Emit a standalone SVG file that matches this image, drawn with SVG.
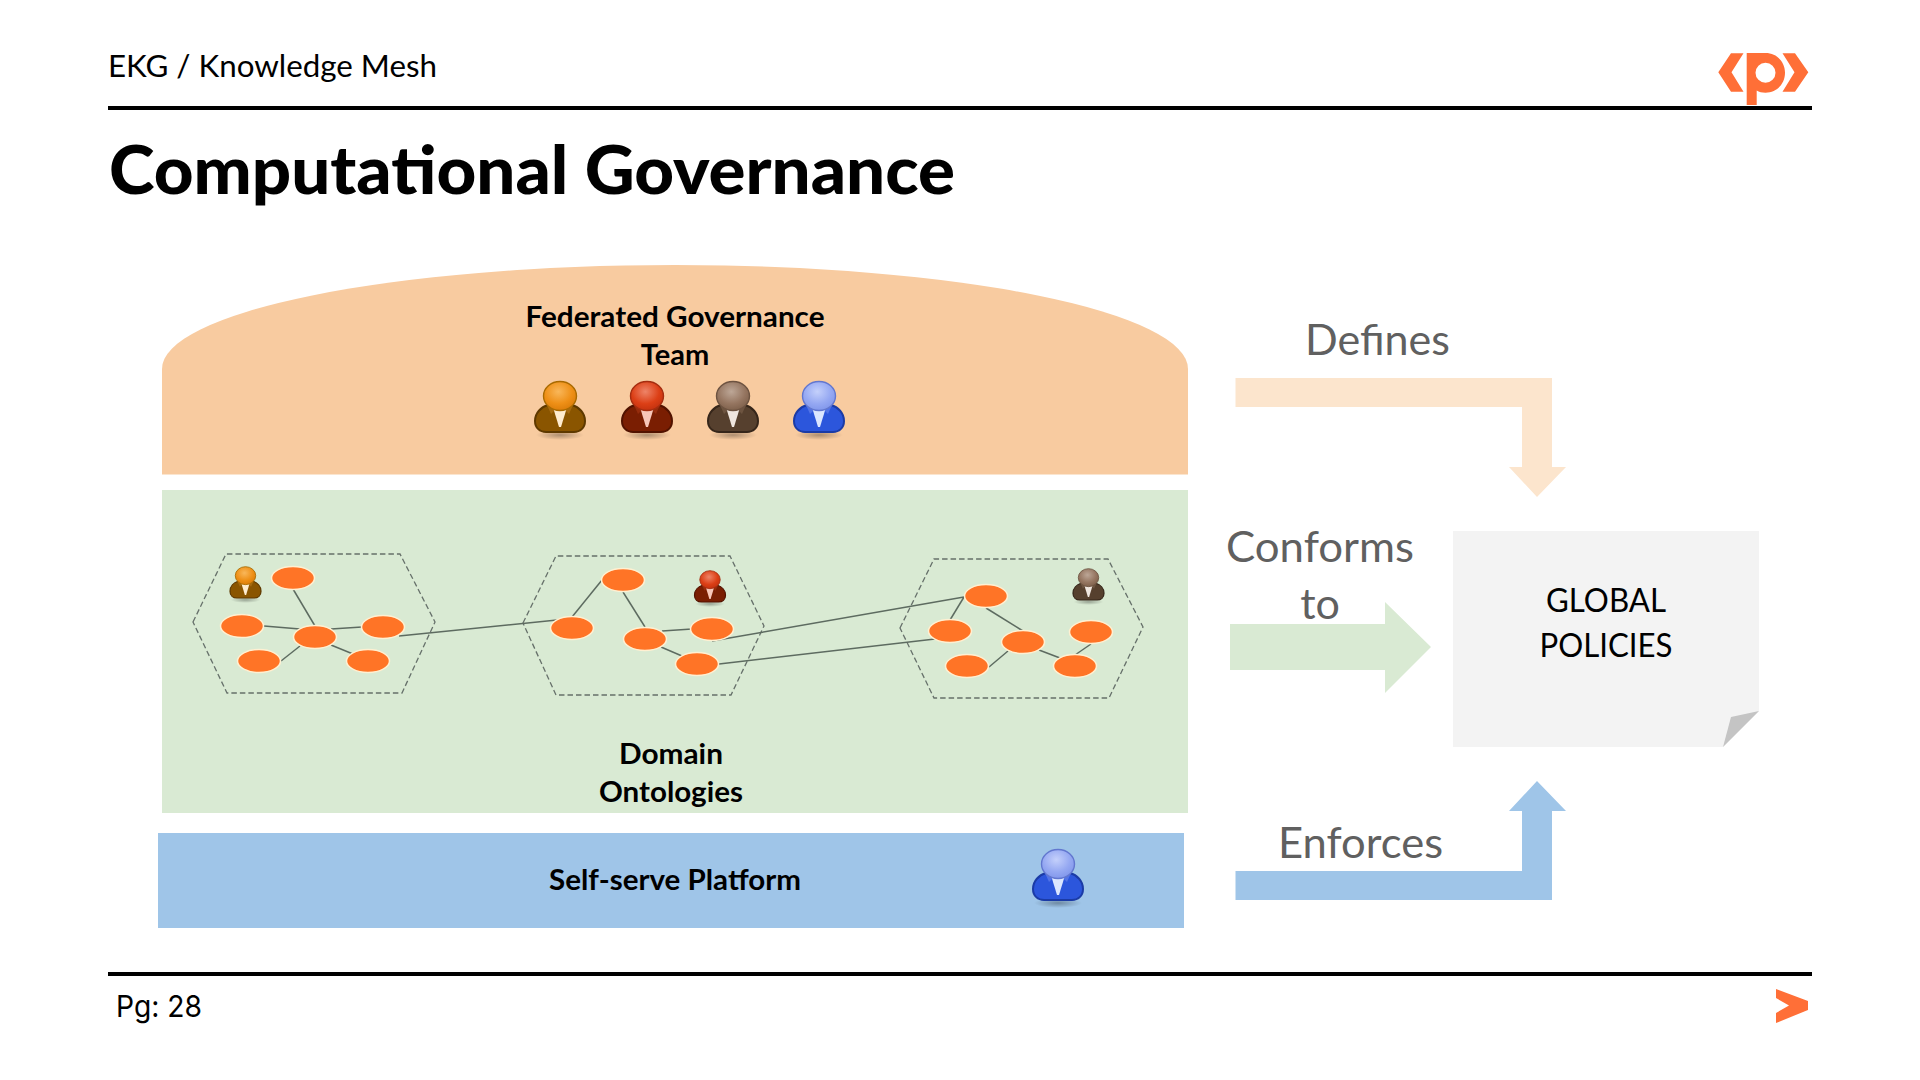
<svg xmlns="http://www.w3.org/2000/svg" width="1920" height="1080" viewBox="0 0 1920 1080">
<style>
text{font-family:"Lato","Noto Sans",sans-serif}
.lbl{font-weight:700;font-size:29px;fill:#000;text-anchor:middle}
.rel{font-size:43px;fill:#606060}
.doc{font-size:33px;fill:#000;text-anchor:middle}
.head{font-size:30px;fill:#000}
.n{fill:#FF7426;stroke:#FFF0D2;stroke-width:1.5}
.hex{fill:none;stroke:#66706a;stroke-width:1.3;stroke-dasharray:5.5 3}
.c{stroke:#5d6b60;stroke-width:1.5;fill:none}
.rule{fill:#000}
.logo{fill:#FF6F37}
</style>
<defs>
<radialGradient id="gO" cx=".45" cy=".35" r=".7"><stop offset="0" stop-color="#f9b75a"/><stop offset=".6" stop-color="#ee8f16"/><stop offset="1" stop-color="#d87a08"/></radialGradient>
<radialGradient id="gR" cx=".45" cy=".35" r=".7"><stop offset="0" stop-color="#ee8468"/><stop offset=".6" stop-color="#dc3f16"/><stop offset="1" stop-color="#c0300e"/></radialGradient>
<radialGradient id="gB" cx=".45" cy=".35" r=".7"><stop offset="0" stop-color="#bda797"/><stop offset=".6" stop-color="#957560"/><stop offset="1" stop-color="#7a5d48"/></radialGradient>
<radialGradient id="gU" cx=".45" cy=".35" r=".7"><stop offset="0" stop-color="#c4d0fb"/><stop offset=".6" stop-color="#95a8f2"/><stop offset="1" stop-color="#7e94ea"/></radialGradient>
<radialGradient id="sh"><stop offset="0" stop-color="#000" stop-opacity=".3"/><stop offset="1" stop-color="#000" stop-opacity="0"/></radialGradient>
<path id="bd" d="M-12,-27 C-19,-25 -25,-19 -25,-11 C-25,-4 -20,0 -14,0 L14,0 C20,0 25,-4 25,-11 C25,-19 19,-25 12,-27 Z"/>
<path id="tie" d="M-6.500,-23 L6.500,-23 L1,-5 L-1,-5 Z"/>
<path id="col" d="M-13,-27 L-5,-22 L-9,-18 Z M13,-27 L5,-22 L9,-18 Z"/>
<ellipse id="hd" cx="0" cy="-36" rx="16.500" ry="14.500"/>
<ellipse id="shd" cx="0" cy="3" rx="24" ry="5" fill="url(#sh)"/>
<g id="pO"><use href="#shd"/><use href="#bd" fill="#8a5500" stroke="#5e3900" stroke-width="2"/><use href="#col" fill="#a56a10"/><use href="#tie" fill="#ffeccf"/><use href="#hd" fill="url(#gO)" stroke="#a96a00" stroke-width="1.400"/></g>
<g id="pR"><use href="#shd"/><use href="#bd" fill="#7a1e02" stroke="#521300" stroke-width="2"/><use href="#col" fill="#952c0c"/><use href="#tie" fill="#f8c6b8"/><use href="#hd" fill="url(#gR)" stroke="#a52d10" stroke-width="1.400"/></g>
<g id="pB"><use href="#shd"/><use href="#bd" fill="#56402e" stroke="#36261a" stroke-width="2"/><use href="#col" fill="#6d5440"/><use href="#tie" fill="#efe6df"/><use href="#hd" fill="url(#gB)" stroke="#6d5341" stroke-width="1.400"/></g>
<g id="pU"><use href="#shd"/><use href="#bd" fill="#2c56dc" stroke="#1b3ba6" stroke-width="2"/><use href="#col" fill="#5273e6"/><use href="#tie" fill="#dbe6ff"/><use href="#hd" fill="url(#gU)" stroke="#6277cf" stroke-width="1.400"/></g>
</defs>
<rect width="1920" height="1080" fill="#fff"/>

<g id="header">
<text class="head" x="108" y="77" textLength="329" lengthAdjust="spacingAndGlyphs">EKG / Knowledge Mesh</text>
<rect class="rule" x="108" y="106" width="1704" height="4"/>
<text x="109" y="194" font-size="67" font-weight="900" fill="#000" textLength="846" lengthAdjust="spacingAndGlyphs">Computational Governance</text>
</g>
<g id="logo" class="logo">
<path d="M1718.300,72.300 L1731,53.300 H1743.500 L1731.500,72.300 L1743.500,91.700 H1731 Z"/>
<path d="M1808.300,72.300 L1795,53.300 H1782.500 L1794.500,72.300 L1782.500,91.700 H1795 Z"/>
<path fill-rule="evenodd" d="M1746.700,53 H1765.500 C1777,53 1785,62 1785,72.700 C1785,83.500 1777,92.700 1765.500,92.700 C1762,92.700 1759,92 1756.700,90.500 V105 H1746.700 Z M1765.500,62.700 A10,10 0 1 0 1765.500,82.700 A10,10 0 1 0 1765.500,62.700 Z"/>
</g>

<g id="governance-team">
<path d="M162,474.500 V369 A513,104 0 0 1 1188,369 V474.500 Z" fill="#F8CBA0"/>
<text class="lbl" x="675" y="327" textLength="299" lengthAdjust="spacingAndGlyphs">Federated Governance</text>
<text class="lbl" x="675" y="365">Team</text>
<use href="#pO" x="560" y="432"/>
<use href="#pR" x="647" y="432"/>
<use href="#pB" x="733" y="432"/>
<use href="#pU" x="819" y="432"/>
</g>

<g id="domain-ontologies">
<rect x="162" y="490" width="1026" height="323" fill="#D9EAD3"/>
<text class="lbl" x="671" y="764" textLength="104" lengthAdjust="spacingAndGlyphs">Domain</text>
<text class="lbl" x="671" y="802" textLength="144" lengthAdjust="spacingAndGlyphs">Ontologies</text>
</g>

<g id="platform">
<rect x="158" y="833" width="1026" height="95" fill="#9FC5E8"/>
<text class="lbl" x="675" y="890" textLength="252" lengthAdjust="spacingAndGlyphs">Self-serve Platform</text>
<use href="#pU" x="1058" y="900"/>
</g>

<g id="domain-hexagons">
<polygon class="hex" points="193,622 226,554 400,554 435,622 402,693 227,693"/>
<polygon class="hex" points="523,623 556,556 730,556 764,626 731,695 556,695"/>
<polygon class="hex" points="900,628 934,559 1108,559 1143,627 1109,698 934,698"/>
</g>

<g id="connectors">
<line class="c" x1="293" y1="589" x2="315" y2="626"/>
<line class="c" x1="264" y1="626" x2="300" y2="629"/>
<line class="c" x1="331" y1="629" x2="362" y2="627"/>
<line class="c" x1="281" y1="661" x2="300" y2="646"/>
<line class="c" x1="331" y1="645" x2="353" y2="654"/>
<line class="c" x1="399" y1="636" x2="557" y2="620"/>
<line class="c" x1="572" y1="617" x2="602" y2="580"/>
<line class="c" x1="623" y1="592" x2="645" y2="627"/>
<line class="c" x1="662" y1="631" x2="692" y2="629"/>
<line class="c" x1="661" y1="647" x2="682" y2="656"/>
<line class="c" x1="712" y1="641" x2="964" y2="597"/>
<line class="c" x1="719" y1="664" x2="935" y2="639"/>
<line class="c" x1="964" y1="597" x2="950" y2="620"/>
<line class="c" x1="986" y1="608" x2="1023" y2="631"/>
<line class="c" x1="989" y1="667" x2="1008" y2="651"/>
<line class="c" x1="1039" y1="650" x2="1060" y2="658"/>
<line class="c" x1="1091" y1="644" x2="1075" y2="655"/>
</g>

<g id="graph-nodes">
<ellipse class="n" cx="293" cy="578" rx="21.500" ry="11.500"/>
<ellipse class="n" cx="242" cy="626" rx="21.500" ry="11.500"/>
<ellipse class="n" cx="315" cy="637" rx="21.500" ry="11.500"/>
<ellipse class="n" cx="383" cy="627" rx="21.500" ry="11.500"/>
<ellipse class="n" cx="259" cy="661" rx="21.500" ry="11.500"/>
<ellipse class="n" cx="368" cy="661" rx="21.500" ry="11.500"/>
<ellipse class="n" cx="623" cy="580" rx="21.500" ry="11.500"/>
<ellipse class="n" cx="572" cy="628" rx="21.500" ry="11.500"/>
<ellipse class="n" cx="645" cy="639" rx="21.500" ry="11.500"/>
<ellipse class="n" cx="712" cy="629" rx="21.500" ry="11.500"/>
<ellipse class="n" cx="697" cy="664" rx="21.500" ry="11.500"/>
<ellipse class="n" cx="986" cy="596" rx="21.500" ry="11.500"/>
<ellipse class="n" cx="950" cy="631" rx="21.500" ry="11.500"/>
<ellipse class="n" cx="1023" cy="642" rx="21.500" ry="11.500"/>
<ellipse class="n" cx="1091" cy="632" rx="21.500" ry="11.500"/>
<ellipse class="n" cx="967" cy="666" rx="21.500" ry="11.500"/>
<ellipse class="n" cx="1075" cy="666" rx="21.500" ry="11.500"/>
<use href="#pO" transform="translate(245.500,598) scale(.62)"/>
<use href="#pR" transform="translate(710,602) scale(.62)"/>
<use href="#pB" transform="translate(1088.500,600) scale(.62)"/>
</g>

<g id="defines-arrow">
<path d="M1235.500,378 H1552 V467 H1566 L1537,497 L1509,467 H1522 V407 H1235.500 Z" fill="#FCE5CD"/>
<text class="rel" x="1305" y="355" textLength="145" lengthAdjust="spacingAndGlyphs">Defines</text>
</g>
<g id="conforms-arrow">
<path d="M1230,624 H1385 V602 L1431,647 L1385,693 V670 H1230 Z" fill="#D9EAD3"/>
<text class="rel" x="1226" y="562" textLength="188" lengthAdjust="spacingAndGlyphs">Conforms</text>
<text class="rel" x="1320" y="619" text-anchor="middle">to</text>
</g>
<g id="enforces-arrow">
<path d="M1235.500,900 H1552 V811 H1566 L1537,781 L1509,811 H1522 V871 H1235.500 Z" fill="#9FC5E8"/>
<text class="rel" x="1278" y="858" textLength="165" lengthAdjust="spacingAndGlyphs">Enforces</text>
</g>
<g id="global-policies">
<path d="M1453,531 H1759 V711 L1723,747 H1453 Z" fill="#F3F3F3"/>
<path d="M1759,711 L1731,717 L1723,747 Z" fill="#C4C4C4"/>
<text class="doc" x="1606" y="612" textLength="120" lengthAdjust="spacingAndGlyphs">GLOBAL</text>
<text class="doc" x="1606" y="657" textLength="133" lengthAdjust="spacingAndGlyphs">POLICIES</text>
</g>

<g id="footer">
<rect class="rule" x="108" y="972" width="1704" height="4"/>
<text class="head" x="116" y="1017" style="font-family:Inter,sans-serif" font-size="30" textLength="86" lengthAdjust="spacingAndGlyphs">Pg: 28</text>
<path class="logo" d="M1776,989 L1808,1001 V1010 L1776,1023 V1013 L1789,1005.500 L1776,998 Z"/>
</g>
</svg>
